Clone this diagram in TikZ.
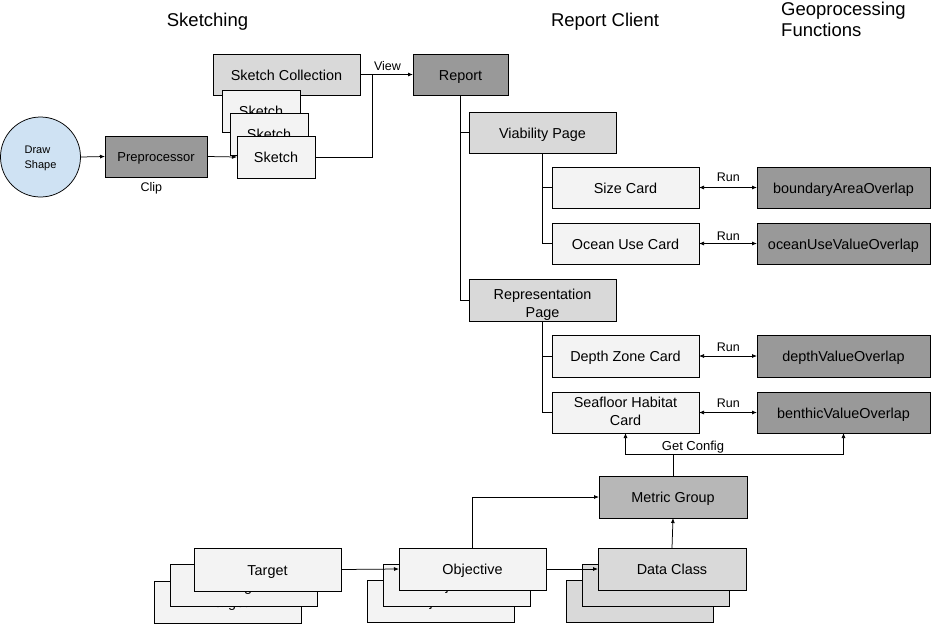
\documentclass[tikz,border=0pt]{standalone}
\usepackage{fontspec}
\setmainfont{Liberation Sans}
\usetikzlibrary{arrows.meta}
\definecolor{dk}{HTML}{999999}
\definecolor{md}{HTML}{B7B7B7}
\definecolor{lt}{HTML}{D9D9D9}
\definecolor{vl}{HTML}{F3F3F3}
\definecolor{bl}{HTML}{CFE2F3}
\begin{document}
\begin{tikzpicture}[x=1pt,y=-1pt,
 box/.style={draw=black, line width=0.75pt, rectangle, inner sep=0pt, outer sep=0pt, align=center,
   font=\fontsize{14.4}{18}\selectfont, minimum width=147pt, minimum height=41pt,
   text height=13.6pt, text depth=2pt},
 con/.style={line width=0.75pt},
 arr/.style={con, -{Latex[length=5pt,width=4pt]}},
 darr/.style={con, {Latex[length=5pt,width=4pt]}-{Latex[length=5pt,width=4pt]}},
 lbl/.style={font=\fontsize{12.5}{15}\selectfont, inner sep=0pt, anchor=base},
 ttl/.style={font=\fontsize{18.5}{20.5}\selectfont, inner sep=0pt, align=left},
]
\useasboundingbox[fill=white] (0,0) rectangle (943,632);

% titles
\node[ttl, anchor=base] (tsk) at (207.5,26.7) {Sketching};
\node[ttl, anchor=base] (trc) at (605,26.7) {Report Client};
\node[ttl, anchor=west] (tgf) at (781,19.5) {Geoprocessing\\Functions};

% sketching
\node[draw=black, line width=0.75pt, circle, fill=bl, minimum size=80pt, inner sep=0pt, align=left,
  font=\fontsize{11}{15}\selectfont, text height=24.6pt, text depth=2pt] (circ) at (40.5,157) {Draw\\Shape};
\node[box, fill=dk, minimum width=102pt, font=\fontsize{13}{16}\selectfont, text height=12.4pt] (pre) at (156,156.5) {Preprocessor};
\node[lbl] (clip) at (151.3,191.7) {Clip};
\node[box, fill=lt] (coll) at (286.5,74.5) {Sketch Collection};
\node[box, fill=vl, minimum width=78pt, minimum height=42pt] (sk1) at (261,111) {Sketch};
\node[box, fill=vl, minimum width=78pt, minimum height=42pt] (sk2) at (269,134) {Sketch};
\node[box, fill=vl, minimum width=78pt, minimum height=42pt] (sk3) at (276,157) {Sketch};

% report client
\node[box, fill=dk, minimum width=95pt] (report) at (460.5,74.5) {Report};
\node[box, fill=lt] (via) at (542.5,132.5) {Viability Page};
\node[box, fill=lt, minimum height=42pt, font=\fontsize{14.4}{18.7}\selectfont, text height=37.4pt] (rep) at (542.5,300) {Representation\\Page};
\node[box, fill=vl] (size) at (625.5,187.5) {Size Card};
\node[box, fill=vl] (ocean) at (625.5,243.5) {Ocean Use Card};
\node[box, fill=vl, minimum height=42pt] (depth) at (625.5,356) {Depth Zone Card};
\node[box, fill=vl, font=\fontsize{14.4}{17.7}\selectfont, text height=27pt] (sea) at (625.5,412.5) {Seafloor Habitat\\Card};

% geoprocessing
\node[box, fill=dk, minimum width=173pt] (bao) at (843.5,187.5) {boundaryAreaOverlap};
\node[box, fill=dk, minimum width=173pt] (ouvo) at (843.5,243.5) {oceanUseValueOverlap};
\node[box, fill=dk, minimum width=173pt, minimum height=42pt] (dvo) at (843.5,356) {depthValueOverlap};
\node[box, fill=dk, minimum width=173pt] (bvo) at (843.5,412.5) {benthicValueOverlap};

% config
\node[box, fill=md, minimum width=148pt, minimum height=42pt] (mg) at (673,497) {Metric Group};

\node[box, fill=vl, minimum height=42pt] (tg3) at (228,602) {Target};
\node[box, fill=vl, minimum height=42pt] (tg2) at (244,585.5) {Target};
\node[box, fill=vl, minimum height=43pt] (tg) at (267.5,569.5) {Target};

\node[box, fill=vl, minimum height=42pt] (obj3) at (440.5,601) {Objective};
\node[box, fill=vl, minimum height=42pt] (obj2) at (456.5,585) {Objective};
\node[box, fill=vl, minimum height=42pt] (obj) at (472.5,569) {Objective};

\node[box, fill=lt, minimum height=42pt] (dc3) at (640,601) {Data Class};
\node[box, fill=lt, minimum height=42pt] (dc2) at (655.5,585) {Data Class};
\node[box, fill=lt, minimum width=148pt, minimum height=42pt] (dc) at (672,569) {Data Class};

% connectors
\draw[arr] (circ.east) -- (pre.west);
\draw[arr] (pre.east) -- (sk3.west);
\coordinate (jv) at (372,74.5);
\draw[con] (sk3.east) -| (jv);
\draw[arr] (coll.east) -- (report.west);
\node[lbl] (view) at (387.5,70) {View};

\draw[con] (report.south) |- (via.west);
\draw[con] (report.south) |- (rep.west);
\draw[con] (via.south) |- (size.west);
\draw[con] (via.south) |- (ocean.west);
\draw[con] (rep.south) |- (depth.west);
\draw[con] (rep.south) |- (sea.west);

\draw[darr] (size.east) -- (bao.west);
\node[lbl] (run1) at (728.3,181.7) {Run};
\draw[darr] (ocean.east) -- (ouvo.west);
\node[lbl] (run2) at (728.3,240) {Run};
\draw[darr] (depth.east) -- (dvo.west);
\node[lbl] (run3) at (728.3,351.7) {Run};
\draw[darr] (sea.east) -- (bvo.west);
\node[lbl] (run4) at (728.3,407.7) {Run};

\coordinate (gc) at (673,454);
\draw[con] (mg.north) -- (gc);
\draw[arr] (gc) -| (sea.south);
\draw[arr] (gc) -| (bvo.south);
\node[lbl, font=\fontsize{13}{15}\selectfont] (getc) at (693,450.7) {Get Config};

\draw[arr] (obj.north) |- (mg.west);
\draw[arr] (obj.east) -- (dc.west);
\draw[arr] (dc.north) -- (mg.south);
\draw[arr] (tg.east) -- (obj.west);
\end{tikzpicture}
\end{document}
